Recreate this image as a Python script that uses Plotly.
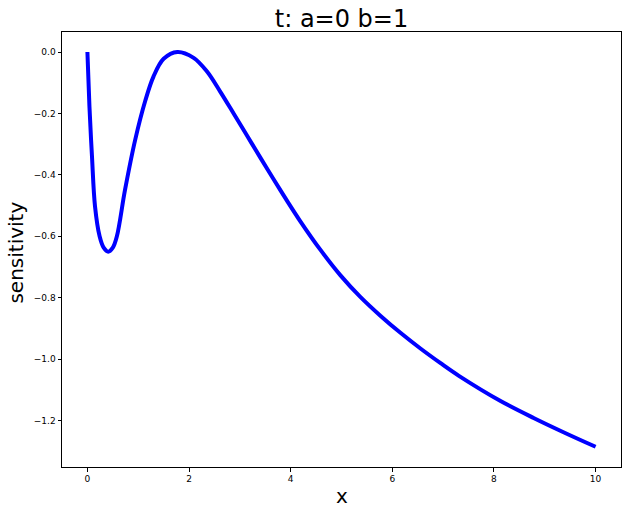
"""
Sensitivity curve, t: a=0 b=1
"""

import plotly.graph_objects as go

# values
x_vals = [0.0, 0.04, 0.09, 0.15, 0.24, 0.32, 0.41, 0.50, 0.58, 0.74, 0.94,
          1.14, 1.30, 1.50, 1.77, 2.09, 2.35, 2.61, 2.88, 3.14, 3.40, 3.67,
          3.92, 4.19, 4.59, 4.98, 5.37, 5.77, 6.16, 6.56, 6.95, 7.31, 8.13,
          8.79, 9.40, 10.0]
sensitivity = [0.0, -0.177, -0.340, -0.503, -0.600, -0.637, -0.650, -0.637,
               -0.600, -0.449, -0.286, -0.158, -0.080, -0.022, 0.0, -0.019,
               -0.063, -0.128, -0.201, -0.272, -0.343, -0.416, -0.482, -0.551,
               -0.645, -0.727, -0.797, -0.859, -0.914, -0.966, -1.013, -1.054,
               -1.136, -1.192, -1.240, -1.285]

x_ticks = [0, 2, 4, 6, 8, 10]
x_tick_text = ["0", "2", "4", "6", "8", "10"]
y_ticks = [0.0, -0.2, -0.4, -0.6, -0.8, -1.0, -1.2]
y_tick_text = ["0.0", "−0.2", "−0.4", "−0.6", "−0.8", "−1.0", "−1.2"]

FONT = "DejaVu Sans"

fig = go.Figure()
fig.add_trace(
    go.Scatter(
        x=x_vals,
        y=sensitivity,
        mode="lines",
        line=dict(color="#0000ff", width=4, shape="spline", smoothing=1.0),
        showlegend=False,
    )
)

axis_common = dict(
    showgrid=False,
    zeroline=False,
    showline=True,
    mirror=True,
    linecolor="#000000",
    linewidth=1,
    ticks="outside",
    ticklen=3.5,
    tickwidth=1,
    tickcolor="#000000",
    tickfont=dict(family=FONT, size=9, color="#000000"),
    automargin=False,
)

fig.update_layout(
    width=626,
    height=514,
    margin=dict(l=62, r=5, t=32, b=47),
    paper_bgcolor="white",
    plot_bgcolor="white",
    font=dict(family=FONT, color="#000000"),
    title=dict(
        text="t: a=0 b=1",
        font=dict(family=FONT, size=24, color="#000000"),
        x=0.5,
        xanchor="center",
        xref="paper",
        yref="container",
        y=1 - 19 / 514,
        yanchor="middle",
    ),
    xaxis=dict(axis_common, range=[-0.5, 10.5], tickvals=x_ticks, ticktext=x_tick_text),
    yaxis=dict(axis_common, range=[-1.3508, 0.0651], tickvals=y_ticks, ticktext=y_tick_text),
)

# 轴标题
fig.add_annotation(
    text="x",
    xref="paper", yref="paper",
    x=0.5, y=-29 / 435,
    xanchor="center", yanchor="middle",
    showarrow=False,
    font=dict(family=FONT, size=20, color="#000000"),
)
fig.add_annotation(
    text="sensitivity",
    xref="paper", yref="paper",
    x=-46 / 559, y=0.493,
    xanchor="center", yanchor="middle",
    textangle=-90,
    showarrow=False,
    font=dict(family=FONT, size=20, color="#000000"),
)

# 去掉页面 body 默认的 8px 边距，让图从窗口左上角开始；不显示工具栏
fig.write_html(
    "out.html",
    config={"displayModeBar": False},
    post_script="document.body.style.margin = '0';",
)
